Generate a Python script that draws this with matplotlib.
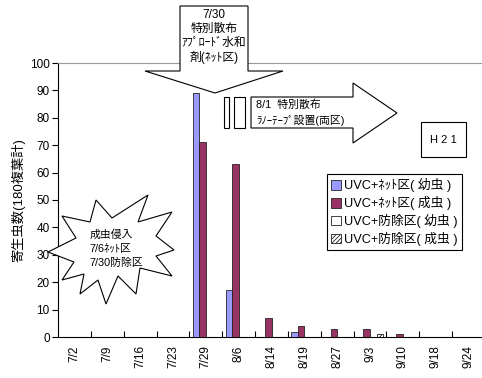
import numpy as np
import matplotlib
matplotlib.use("Agg")
import matplotlib.pyplot as plt
from matplotlib.patches import Polygon, Rectangle, Patch

plt.rcParams['font.family'] = ['Liberation Sans', 'Noto Sans CJK JP', 'DejaVu Sans']
plt.rcParams['hatch.linewidth'] = 0.6

dates = ['7/2', '7/9', '7/16', '7/23', '7/29', '8/6', '8/14', '8/19',
         '8/27', '9/3', '9/10', '9/18', '9/24']
net_larva = [0, 0, 0, 0, 89, 17, 0, 2, 0, 0, 0, 0, 0]
net_adult = [0, 0, 0, 0, 71, 63, 7, 4, 3, 3, 1, 0, 0]
ctrl_larva = [0, 0, 0, 0, 0, 0, 0, 0, 0, 0, 0, 0, 0]
ctrl_adult = [0, 0, 0, 0, 0, 0, 0, 0, 0, 1, 0, 0, 0]
series_names = ['UVC+ﾈｯﾄ区( 幼虫 )', 'UVC+ﾈｯﾄ区( 成虫 )',
                'UVC+防除区( 幼虫 )', 'UVC+防除区( 成虫 )']

W, H = 482, 378
fig = plt.figure(figsize=(W / 100, H / 100), dpi=100)

# plot area in pixel units
left_px, right_px, top_px, bottom_px = 58, 485, 63, 337
ax = fig.add_axes([left_px / W, 1 - bottom_px / H,
                   (right_px - left_px) / W, (bottom_px - top_px) / H])

x = np.arange(len(dates))
bw = 0.2
styles = [
    dict(color='#9999FF', edgecolor='#222222'),
    dict(color='#993366', edgecolor='#222222'),
    dict(color='white', edgecolor='#222222'),
    dict(color='white', edgecolor='#222222', hatch='////////'),
]
for k, vals in enumerate([net_larva, net_adult, ctrl_larva, ctrl_adult]):
    v = np.array(vals, dtype=float)
    m = v > 0
    ax.bar(x[m] + (k - 1.5) * bw, v[m], width=bw, linewidth=0.6,
           zorder=3, **styles[k])

ax.set_xlim(-0.5, len(dates) - 0.5)
ax.set_ylim(0, 100)
ax.set_yticks(np.arange(0, 101, 10))
ax.tick_params(axis='y', direction='out', length=4, width=0.8, labelsize=8.5, pad=2)
ax.set_xticks(x)
ax.set_xticklabels(dates, rotation=90, fontsize=8.5)
ax.tick_params(axis='x', which='major', length=0, pad=6)
ax.set_xticks(x[:-1] + 0.5, minor=True)
ax.tick_params(axis='x', which='minor', direction='in', length=4, width=0.8)
ax.spines['right'].set_visible(False)
ax.spines['top'].set_color('#999999')
ax.spines['top'].set_linewidth(0.8)
ax.spines['left'].set_linewidth(0.8)
ax.spines['bottom'].set_linewidth(0.8)
ax.set_ylabel('寄生虫数(180複葉計)', fontsize=9.5, labelpad=3)

# annotation layer in pixel coordinates
ov = fig.add_axes([0, 0, 1, 1])
ov.set_xlim(0, W)
ov.set_ylim(H, 0)
ov.axis('off')
ov.patch.set_alpha(0)

lw = 0.8
# down arrow callout
ov.add_patch(Polygon([(180, 6), (248, 6), (248, 71), (283, 71), (215, 93),
                      (145, 71), (180, 71)], closed=True, facecolor='white',
                     edgecolor='black', linewidth=lw))
for txt, yy in zip(['7/30', '特別散布', 'ｱﾌﾟﾛｰﾄﾞ水和', '剤(ﾈｯﾄ区)'],
                   [15, 29, 43, 57]):
    ov.text(214, yy, txt, ha='center', va='center', fontsize=8.5)

# right arrow with two bars
ov.add_patch(Polygon([(251, 97), (353, 97), (353, 83), (397, 113), (353, 143),
                      (353, 128), (251, 128)], closed=True, facecolor='white',
                     edgecolor='black', linewidth=lw))
ov.add_patch(Rectangle((224, 97), 5, 31, facecolor='white', edgecolor='black', linewidth=lw))
ov.add_patch(Rectangle((234, 97), 11, 31, facecolor='white', edgecolor='black', linewidth=lw))
ov.text(256, 105, '8/1  特別散布', ha='left', va='center', fontsize=7.8)
ov.text(256, 120, 'ﾗﾉｰﾃｰﾌﾟ設置(両区)', ha='left', va='center', fontsize=7.8)

# year box
ov.add_patch(Rectangle((421, 122), 45, 35, facecolor='white', edgecolor='black', linewidth=lw))
ov.text(443.5, 140, 'H 2 1', ha='center', va='center', fontsize=8)

# starburst
star = [(48, 252), (76, 238), (62, 216), (90, 222), (96, 200), (112, 218),
        (148, 195), (138, 222), (172, 212), (156, 236), (174, 250), (156, 256),
        (172, 276), (140, 268), (136, 294), (118, 276), (106, 304), (98, 280),
        (80, 294), (84, 274), (62, 280), (74, 262)]
ov.add_patch(Polygon(star, closed=True, facecolor='white', edgecolor='black',
                     linewidth=lw))
for txt, yy in zip(['成虫侵入', '7/6ﾈｯﾄ区', '7/30防除区'], [235, 249, 263]):
    ov.text(90, yy, txt, ha='left', va='center', fontsize=7.8)

# legend
handles = [Patch(facecolor=s['color'], edgecolor='#222222', linewidth=0.6,
                 hatch=s.get('hatch')) for s in styles]
leg = fig.legend(handles, series_names, loc='upper left',
                 bbox_to_anchor=(327 / W, 1 - 174 / H), borderaxespad=0,
                 fontsize=9.2, frameon=True, fancybox=False, framealpha=1,
                 edgecolor='black', handlelength=0.75, handleheight=0.75,
                 handletextpad=0.25, labelspacing=0.3, borderpad=0.35)
leg.get_frame().set_linewidth(0.8)

fig.savefig('out.png', dpi=100)
